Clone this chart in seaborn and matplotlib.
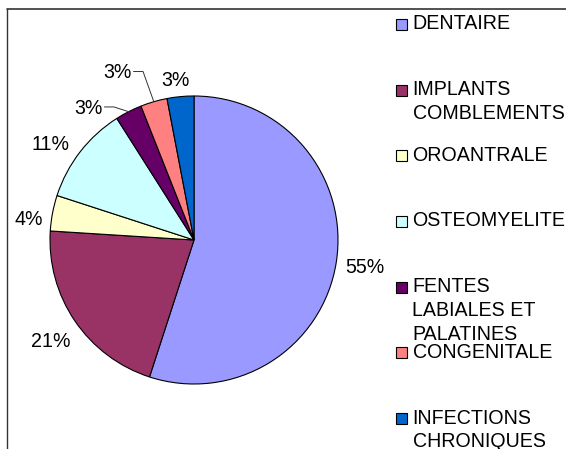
import matplotlib
matplotlib.use("Agg")
import matplotlib.pyplot as plt
import seaborn as sns
import numpy as np
from matplotlib.lines import Line2D
from matplotlib.patches import Rectangle

# Distribution of cases by origin (percent)
categories = [
    "DENTAIRE",
    "IMPLANTS\nCOMBLEMENTS",
    "OROANTRALE",
    "OSTEOMYELITE",
    "FENTES\nLABIALES ET\nPALATINES",
    "CONGENITALE",
    "INFECTIONS\nCHRONIQUES",
]
values = [55, 21, 4, 11, 3, 3, 3]
colors = ["#9999FF", "#993366", "#FFFFCC", "#CCFFFF", "#660066", "#FF8080", "#0066CC"]

# Where each percentage label sits, in pie-radius units around the centre
label_pos = [
    (1.185, -0.181),
    (-0.997, -0.694),
    (-1.146, 0.153),
    (-0.997, 0.674),
    (-0.733, 0.924),
    (-0.531, 1.170),
    (-0.132, 1.118),
]
# Labels that get a leader line back to their slice
leader = [False, False, False, False, True, True, False]

sns.set_theme(style="white")
plt.rcParams["font.family"] = ["Liberation Sans", "DejaVu Sans"]

W, H = 566, 449
fig = plt.figure(figsize=(W / 100, H / 100), dpi=100)
fig.patch.set_facecolor("white")

FS = 14.1          # font size in points
CAP = 6.9          # half of the cap height in px


def fx(x):
    return x / W


def fy(y):
    return 1 - y / H


# Chart frame: top and left edges
fig.add_artist(Line2D([fx(7), fx(566)], [fy(8.7), fy(8.7)], color="#333333", lw=1.2))
fig.add_artist(Line2D([fx(7.3), fx(7.3)], [fy(8.7), fy(449)], color="#333333", lw=1.0))

# Pie
cx, cy, R = 194, 240, 144
ax = fig.add_axes([fx(cx - R), fy(cy + R), 2 * R / W, 2 * R / H])
wedges, _ = ax.pie(
    values,
    colors=colors,
    startangle=90,
    counterclock=False,
    radius=1.0,
    wedgeprops=dict(edgecolor="black", linewidth=0.8),
)
ax.set_xlim(-1, 1)
ax.set_ylim(-1, 1)
ax.axis("off")

px_per_unit = R
for v, w, (lx, ly), lead in zip(values, wedges, label_pos, leader):
    # baseline offset so the cap height is centred on the label point
    ax.text(lx, ly - CAP / px_per_unit, f"{v}%", ha="center", va="baseline",
            fontsize=FS, color="black", clip_on=False)
    if lead:
        mid = np.deg2rad((w.theta1 + w.theta2) / 2)
        tip = (np.cos(mid), np.sin(mid))
        x0 = lx + 16 / px_per_unit
        x1 = x0 + 9.5 / px_per_unit
        ax.add_line(Line2D([x0, x1, tip[0]], [ly, ly, tip[1]], color="#333333",
                           lw=0.7, clip_on=False))

# Legend drawn at the right, one block per category
first_base = 29.3
step = 65.7
line_gap = 23.9
for i, (name, col) in enumerate(zip(categories, colors)):
    base = first_base + step * i
    fig.add_artist(Rectangle((fx(395.5), fy(base + 0.5)), 11 / W, 11 / H,
                             transform=fig.transFigure, facecolor=col,
                             edgecolor="black", lw=0.8))
    for k, line in enumerate(name.split("\n")):
        fig.text(fx(412.5), fy(base + k * line_gap), line, ha="left", va="baseline",
                 fontsize=FS, color="black")

fig.savefig("out.png", dpi=100)
